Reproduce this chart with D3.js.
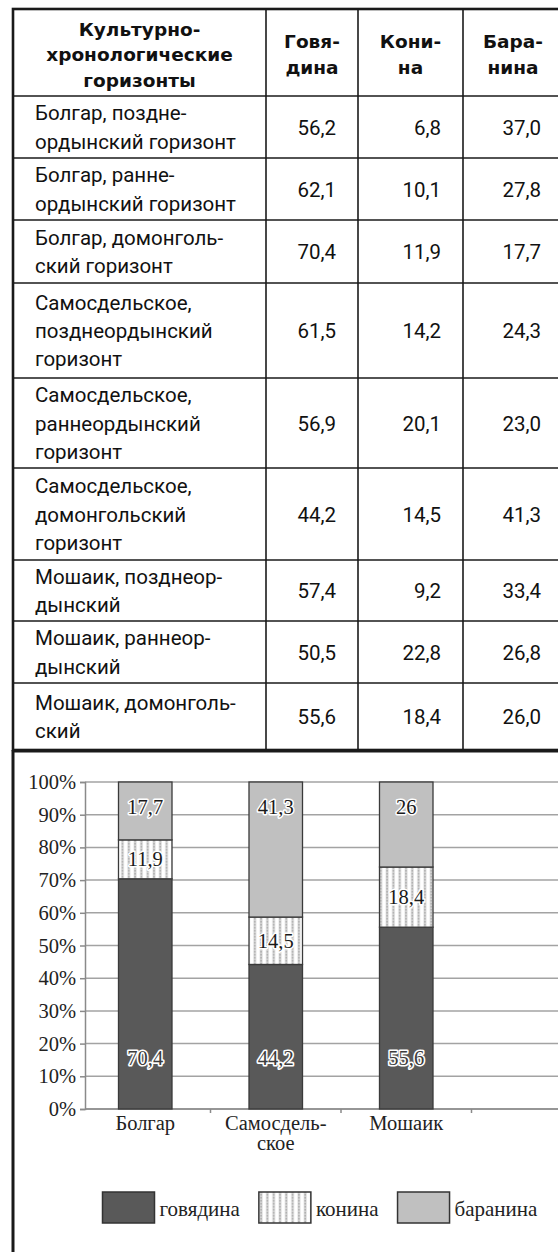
<!DOCTYPE html>
<html><head><meta charset="utf-8">
<script src="https://cdn.jsdelivr.net/npm/d3@7/dist/d3.min.js"></script>
<style>body{margin:0;background:#fff;} svg{display:block;}</style>
</head><body>
<svg id="c" width="558" height="1252"></svg>
<script>
// ---------- DATA ----------
const headerLines = [["Культурно-","хронологические","горизонты"],["Говя-","дина"],["Кони-","на"],["Бара-","нина"]];
const rowLabels = [
  ["Болгар, поздне-","ордынский горизонт"],
  ["Болгар, ранне-","ордынский горизонт"],
  ["Болгар, домонголь-","ский горизонт"],
  ["Самосдельское,","позднеордынский","горизонт"],
  ["Самосдельское,","раннеордынский","горизонт"],
  ["Самосдельское,","домонгольский","горизонт"],
  ["Мошаик, позднеор-","дынский"],
  ["Мошаик, раннеор-","дынский"],
  ["Мошаик, домонголь-","ский"]
];
const tableBeef   = [56.2, 62.1, 70.4, 61.5, 56.9, 44.2, 57.4, 50.5, 55.6];
const tableHorse  = [6.8, 10.1, 11.9, 14.2, 20.1, 14.5, 9.2, 22.8, 18.4];
const tableMutton = [37.0, 27.8, 17.7, 24.3, 23.0, 41.3, 33.4, 26.8, 26.0];

const sites = ["Болгар","Самосдельское","Мошаик"];
const siteLabels = [["Болгар"],["Самосдель-","ское"],["Мошаик"]];
const chartBeef   = [70.4, 44.2, 55.6];
const chartHorse  = [11.9, 14.5, 18.4];
const chartMutton = [17.7, 41.3, 26];
const yTicks = [0,10,20,30,40,50,60,70,80,90,100];
const seriesKeys = ["beef","horse","mutton"];
const legendNames = ["говядина","конина","баранина"];

// ---------- LAYOUT ----------
const svg = d3.select("#c");
const colX = [13, 266, 358, 463, 563];
const rowY = [9, 96, 158, 220, 283, 378, 468, 560, 621, 683, 750];
const sans = "Roboto, 'DejaVu Sans', sans-serif";
const sansBold = "'DejaVu Sans', sans-serif";
const serif = "'Liberation Serif', 'Times New Roman', serif";
const comma = v => String(v).replace(".", ",");

// header
const hdr = svg.append("g");
headerLines.forEach((lines, ci) => {
  const cx = (colX[ci] + colX[ci+1]) / 2;
  const cy = (rowY[0] + rowY[1]) / 2;
  const sp = 25.5;
  hdr.selectAll(null).data(lines).join("text")
    .attr("x", cx)
    .attr("y", (d,i) => cy + 8.5 - (lines.length-1)*sp/2 + i*sp)
    .attr("text-anchor","middle")
    .attr("font-family", sansBold).attr("font-weight","bold").attr("font-size", 18.5)
    .attr("fill","#111").text(d => d);
});

// rows
const body = svg.append("g");
rowLabels.forEach((lines, ri) => {
  const cy = (rowY[ri+1] + rowY[ri+2]) / 2;
  const sp = 28.3;
  body.selectAll(null).data(lines).join("text")
    .attr("x", 35)
    .attr("y", (d,i) => cy + 7.5 - (lines.length-1)*sp/2 + i*sp)
    .attr("font-family", sans).attr("font-size", 20.5).attr("fill","#111")
    .text(d => d);
  const vals = [tableBeef[ri], tableHorse[ri], tableMutton[ri]];
  body.selectAll(null).data(vals).join("text")
    .attr("x", (d,i) => colX[i+2] - 22)
    .attr("y", cy + 7.5)
    .attr("text-anchor","end")
    .attr("font-family", sans).attr("font-size", 20.5).attr("fill","#111")
    .text(d => d.toFixed(1).replace(".", ","));
});

// grid lines
const lines = svg.append("g").attr("stroke","#1a1a1a");
lines.selectAll(null).data(rowY.slice(1, -1)).join("line")
  .attr("x1", colX[0]).attr("x2", colX[4]).attr("y1", d=>d).attr("y2", d=>d)
  .attr("stroke-width", 1.6);
lines.selectAll(null).data(colX.slice(1, -1)).join("line")
  .attr("x1", d=>d).attr("x2", d=>d).attr("y1", rowY[0]).attr("y2", rowY[rowY.length-1])
  .attr("stroke-width", 1.6);
lines.append("rect").attr("x", colX[0]).attr("y", rowY[0])
  .attr("width", colX[4]-colX[0]).attr("height", rowY[rowY.length-1]-rowY[0])
  .attr("fill","none").attr("stroke-width", 2.6);
// chart frame
lines.append("line").attr("x1", colX[0]).attr("x2", 600).attr("y1", 751).attr("y2", 751).attr("stroke-width", 3);
lines.append("line").attr("x1", colX[0]).attr("x2", colX[0]).attr("y1", 750).attr("y2", 1260).attr("stroke-width", 3);

// ---------- CHART ----------
const axisX = 85;
const y = d3.scaleLinear().domain([0,100]).range([1109, 782]);
const x = d3.scaleBand().domain([...sites, ""]).range([80, 602]).paddingInner(0.59).paddingOuter(0.295);

const defs = svg.append("defs");
const pat = defs.append("pattern").attr("id","hatch").attr("patternUnits","userSpaceOnUse")
  .attr("width", 6.3).attr("height", 3);
pat.append("rect").attr("width", 6.3).attr("height", 3).attr("fill","#fff");
pat.append("rect").attr("x", 1.5).attr("y", 0).attr("width", 2.6).attr("height", 3).attr("fill","#cfcfcf");
pat.append("rect").attr("x", 2).attr("y", 0).attr("width", 1.6).attr("height", 1.5).attr("fill","#b0b0b0");

const fills = {beef:"#595959", horse:"url(#hatch)", mutton:"#c0c0c0"};

// gridlines
const chart = svg.append("g");
chart.append("g").selectAll("line").data(yTicks).join("line")
  .attr("x1", axisX).attr("x2", 600).attr("y1", d=>y(d)).attr("y2", d=>y(d))
  .attr("stroke","#a3a3a3").attr("stroke-width", 1.5);

// y axis
const ya = chart.append("g").attr("transform", `translate(${axisX},0)`)
  .call(d3.axisLeft(y).tickValues(yTicks).tickFormat(d => d + "%").tickSize(5).tickPadding(4));
ya.select(".domain").attr("stroke","#8a8a8a").attr("stroke-width",1.5);
ya.selectAll(".tick line").attr("stroke","#8a8a8a").attr("stroke-width",1.5);
ya.selectAll(".tick text").attr("font-family", serif).attr("font-size", 20.5).attr("fill","#222");

// x axis ticks at band boundaries
const step = x.step();
const bounds = x.domain().map(d => x(d) + x.bandwidth()/2 + step/2);
chart.append("g").selectAll("line").data(bounds).join("line")
  .attr("x1", d=>d).attr("x2", d=>d).attr("y1", y(0)).attr("y2", y(0)+4)
  .attr("stroke","#8a8a8a").attr("stroke-width",1.5);
chart.append("line").attr("x1", axisX).attr("x2", 600).attr("y1", y(0)).attr("y2", y(0))
  .attr("stroke","#8a8a8a").attr("stroke-width",1.5);

// bars
const rows = sites.map((s,i) => ({site:s, beef:chartBeef[i], horse:chartHorse[i], mutton:chartMutton[i]}));
const stacked = d3.stack().keys(seriesKeys)(rows);
stacked.forEach(layer => {
  chart.append("g").selectAll("rect").data(layer).join("rect")
    .attr("x", d => x(d.data.site)).attr("width", x.bandwidth())
    .attr("y", d => y(d[1])).attr("height", d => y(d[0]) - y(d[1]))
    .attr("fill", fills[layer.key]).attr("stroke","#3a3a3a").attr("stroke-width",1.3);
});

// value labels
const labelY = {
  beef: d => y(15.5),
  horse: d => y((d[0]+d[1])/2),
  mutton: d => y(d[1]) + 25
};
stacked.forEach(layer => {
  chart.append("g").selectAll("text").data(layer).join("text")
    .attr("x", d => x(d.data.site) + x.bandwidth()/2)
    .attr("y", d => labelY[layer.key](d))
    .attr("dy", "0.34em")
    .attr("text-anchor","middle")
    .attr("font-family", serif).attr("font-size", 20.5)
    .attr("fill", layer.key === "beef" ? "#3c3c3c" : "#1a1a1a")
    .attr("stroke","#fff").attr("stroke-width", layer.key === "beef" ? 3.2 : 3)
    .attr("paint-order","stroke").attr("stroke-linejoin","round")
    .text(d => comma(d.data[layer.key]));
});

// x labels
siteLabels.forEach((ls, i) => {
  chart.append("g").selectAll("text").data(ls).join("text")
    .attr("x", x(sites[i]) + x.bandwidth()/2)
    .attr("y", (d,j) => 1130 + j*20)
    .attr("text-anchor","middle")
    .attr("font-family", serif).attr("font-size", 20.5).attr("fill","#222")
    .text(d => d);
});

// legend
const legendFills = seriesKeys.map(k => fills[k]);
let lx = 102.5;
const lg = svg.append("g");
legendNames.forEach((name, i) => {
  lg.append("rect").attr("x", lx).attr("y", 1192).attr("width", 52).attr("height", 31)
    .attr("fill", legendFills[i]).attr("stroke","#333").attr("stroke-width",1.5);
  const t = lg.append("text").attr("x", lx + 57).attr("y", 1216)
    .attr("font-family", serif).attr("font-size", 21).attr("fill","#222").text(name);
  lx += 57 + t.node().getComputedTextLength() + 19;
});
</script>
</body></html>
